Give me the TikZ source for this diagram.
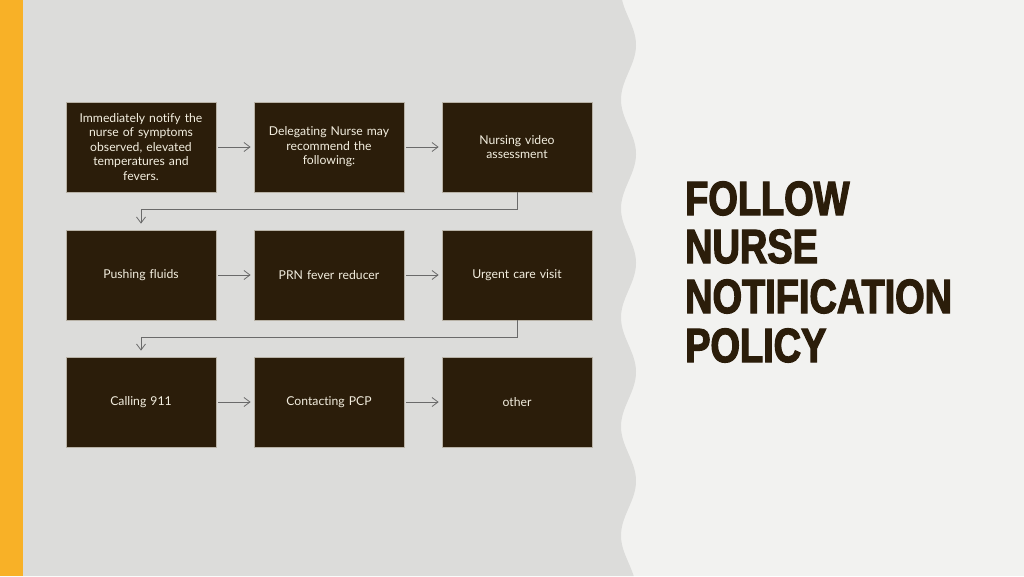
\documentclass[tikz,border=0pt]{standalone}
\usepackage{fontspec}
\setmainfont{Lato}[Ligatures=NoCommon]
\newfontfamily\titlefont{Liberation Sans}[FakeStretch=0.79,FakeBold=2.6]
\usetikzlibrary{arrows.meta}
\definecolor{boxfill}{HTML}{2B1D0A}
\definecolor{boxborder}{HTML}{B8B2A6}
\definecolor{boxtext}{HTML}{F3EEDF}
\definecolor{leftbg}{HTML}{DCDCDA}
\definecolor{rightbg}{HTML}{F2F2F0}
\definecolor{barorange}{HTML}{F8B127}
\definecolor{connc}{HTML}{6A6A6A}
\tikzset{
  stepbox/.style={rectangle, fill=boxfill, draw=boxborder, line width=0.7pt,
    minimum width=150pt, minimum height=90pt, text width=140pt, align=center,
    inner sep=0pt, text=boxtext, font=\fontsize{12.2}{14.5}\selectfont},
  conn/.style={draw=connc, line width=0.8pt, -{Straight Barb[length=6pt,width=9pt]}},
  titleline/.style={anchor=base west, inner sep=0pt, text=boxfill,
    font=\titlefont\bfseries\fontsize{48}{49}\selectfont}
}
\begin{document}
\begin{tikzpicture}[x=1pt,y=-1pt]
\useasboundingbox (0,0) rectangle (1024,576);
\fill[rightbg] (0,0) rectangle (1024,576);
\fill[leftbg] (0,0) -- plot[domain=0:576, samples=240, variable=\t] ({628.5+7.5*sin(3.30275*(\t-17.75))}, \t) -- (0,576) -- cycle;
\fill[barorange] (0,0) rectangle (23,576);

\node[stepbox] (b1) at (141,147) {Immediately notify the\\nurse of symptoms\\observed, elevated\\temperatures and\\fevers.};
\node[stepbox] (b2) at (329,147) {Delegating Nurse may\\recommend the\\following:};
\node[stepbox] (b3) at (517,147) {Nursing video\\assessment};
\node[stepbox] (b4) at (141,275) {Pushing fluids};
\node[stepbox] (b5) at (329,275) {PRN fever reducer};
\node[stepbox] (b6) at (517,275) {Urgent care visit};
\node[stepbox] (b7) at (141,402) {Calling 911};
\node[stepbox] (b8) at (329,402) {Contacting PCP};
\node[stepbox] (b9) at (517,402) {other};

\foreach \a/\b in {b1/b2,b2/b3,b4/b5,b5/b6,b7/b8,b8/b9}
  \draw[conn, shorten <=2pt, shorten >=3pt] (\a) -- (\b);
\draw[conn, shorten >=6pt] (b3.south) -- ++(0,17) -| (b4.north);
\draw[conn, shorten >=6pt] (b6.south) -- ++(0,17) -| (b7.north);

\node[titleline] (t1) at (685,215) {FOLLOW};
\node[titleline] (t2) at (685,263) {NURSE};
\node[titleline] (t3) at (685,313) {NOTIFICATION};
\node[titleline] (t4) at (685,362) {POLICY};
\end{tikzpicture}
\end{document}
